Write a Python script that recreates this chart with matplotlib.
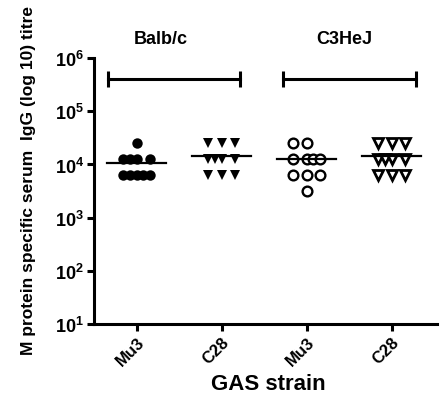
import numpy as np
import matplotlib
matplotlib.use('Agg')
import matplotlib.pyplot as plt

plt.rcParams['font.family'] = ['Liberation Sans', 'DejaVu Sans']
plt.rcParams['font.weight'] = 'bold'
plt.rcParams['mathtext.fontset'] = 'custom'
plt.rcParams['mathtext.rm'] = 'Liberation Sans:bold'
plt.rcParams['mathtext.bf'] = 'Liberation Sans:bold'

# DATA (titres, 2-fold dilution series)
strains = ['Mu3', 'C28', 'Mu3', 'C28']
mice = ['Balb/c', 'C3HeJ']
balbc_mu3 = [25600, 12800, 12800, 12800, 12800, 6400, 6400, 6400, 6400, 6400]
balbc_c28 = [25600, 25600, 25600, 12800, 12800, 12800, 12800, 6400, 6400, 6400]
c3hej_mu3 = [25600, 25600, 12800, 12800, 12800, 12800, 6400, 6400, 6400, 3200]
c3hej_c28 = [25600, 25600, 25600, 12800, 12800, 12800, 12800, 6400, 6400, 6400]
ytick_exp = [1, 2, 3, 4, 5, 6]

# LAYOUT: horizontal slot of each point (scatter spread)
slots_balbc_mu3 = [0, -2, -1, 0, 2, -2, -1, 0, 1, 2]
slots_c28 = [-2, 0, 2, -2, -1, 0, 2, -2, 0, 2]
slots_c3hej_mu3 = [-2, 0, -2, 0, 1, 2, -2, 0, 2, 0]

groups = [
    (balbc_mu3, slots_balbc_mu3, dict(marker='o', color='black', mfc='black', ms=7.5, mew=0)),
    (balbc_c28, slots_c28, dict(marker='v', color='black', mfc='black', ms=7.5, mew=0)),
    (c3hej_mu3, slots_c3hej_mu3, dict(marker='o', color='black', mfc='white', ms=7, mew=1.7)),
    (c3hej_c28, slots_c28, dict(marker='v', color='black', mfc='white', ms=7.5, mew=2)),
]

fig = plt.figure(figsize=(4.45, 4.1), dpi=100)
ax = fig.add_axes([0.211, 0.207, 0.770, 0.649])

step = 0.079
for i, (vals, slots, style) in enumerate(groups):
    x = i + 1 + np.array(slots) * step
    ax.plot(x, vals, linestyle='none', **style)
    m = np.mean(vals)
    ax.plot([i + 1 - 0.345, i + 1 + 0.345], [m, m], color='black', lw=1.6)

# bracket bars over each mouse strain
bar_y = 4.0e5
ax.plot([0.66, 2.215], [bar_y, bar_y], color='black', lw=2.2, marker='|', ms=11, mew=2.2)
ax.plot([2.72, 4.285], [bar_y, bar_y], color='black', lw=2.2, marker='|', ms=11, mew=2.2)
ax.text(1.29, 10**6.36, mice[0], ha='center', va='center', fontsize=13, fontweight='bold')
ax.text(3.44, 10**6.36, mice[1], ha='center', va='center', fontsize=13, fontweight='bold')

ax.set_yscale('log')
ax.set_ylim(10, 1e6)
ax.set_xlim(0.498, 4.53)
ax.set_yticks([10.0**k for k in ytick_exp])
ax.set_yticklabels([r'$10^{%d}$' % k for k in ytick_exp], fontsize=13)
ax.yaxis.set_minor_locator(matplotlib.ticker.NullLocator())
ax.set_xticks([1, 2, 3, 4])
ax.set_xticklabels(strains, rotation=45, ha='right', rotation_mode='anchor',
                   fontsize=12, fontweight='bold')

for s in ['top', 'right']:
    ax.spines[s].set_visible(False)
for s in ['left', 'bottom']:
    ax.spines[s].set_linewidth(2.2)
ax.tick_params(axis='both', width=2.2, length=5, direction='out', pad=2)

fig.text(0.063, 0.56, 'M protein specific serum  IgG (log 10) titre', rotation=90,
         ha='center', va='center', fontsize=12.5, fontweight='bold')
fig.text(0.604, 0.061, 'GAS strain', ha='center', va='center', fontsize=16, fontweight='bold')

fig.savefig('out.png', dpi=100)
